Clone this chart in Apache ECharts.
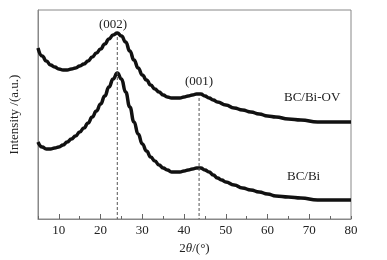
<!DOCTYPE html>
<html>
<head>
<meta charset="utf-8">
<script src="https://cdn.jsdelivr.net/npm/echarts@6/dist/echarts.min.js"></script>
<style>
  html, body { margin: 0; padding: 0; background: #fff; }
  #xrd { width: 387px; height: 260px; }
</style>
</head>
<body>
<div id="xrd"></div>
<script>
  // 2theta (deg) / intensity (arbitrary units)
  var ovAngle = [5, 6, 7, 8, 9, 10, 11, 12, 13, 14, 15, 16, 17, 18, 19, 20, 21, 22, 23, 24, 25, 26, 27, 28, 29, 30, 31, 32, 33, 34, 35, 36, 37, 38, 39, 40, 41, 42, 43, 44, 45, 46, 47, 48, 50, 52, 54, 56, 58, 60, 62, 65, 68, 72, 76, 80]
  var ovInt = [171, 163, 158, 154, 152, 150, 149, 149, 150, 151, 153, 155, 158, 162, 166, 170, 175, 180, 184, 186, 183, 177, 168, 159, 151, 144, 139, 134, 130, 127, 124, 122, 121, 121, 121, 122, 123, 124, 125, 125, 123, 121, 119, 117, 114, 111, 109, 107, 105, 103, 102, 100, 99, 97, 97, 97]
  var biAngle = [5, 6, 7, 8, 9, 10, 11, 12, 13, 14, 15, 16, 17, 18, 19, 20, 21, 22, 23, 24, 25, 26, 27, 28, 29, 30, 31, 32, 33, 34, 35, 36, 37, 38, 39, 40, 41, 42, 43, 44, 45, 46, 47, 48, 49, 50, 52, 54, 56, 58, 60, 62, 65, 68, 72, 76, 80]
  var biInt = [77, 72, 70, 70, 71, 72, 74, 77, 80, 83, 87, 91, 96, 102, 108, 115, 123, 132, 140, 146, 140, 127, 112, 97, 85, 75, 68, 62, 58, 54, 51, 49, 47, 47, 47, 48, 49, 50, 51, 51, 49, 47, 44, 41, 39, 37, 34, 31, 29, 27, 25, 23, 22, 21, 19, 19, 19]
  var peakPos = [24, 43.6]
  var peakTop = [182, 121]
  var peakNames = ['(002)', '(001)']
  var seriesNames = ['BC/Bi-OV', 'BC/Bi']

  function pairs(xs, ys) {
    return xs.map(function (x, i) { return [x, ys[i]] })
  }

  var serif = 'Liberation Serif'
  var myChart = echarts.init(document.getElementById('xrd'))

  var series = [{
    name: seriesNames[0],
    type: 'line',
    smooth: 0.5,
    smoothMonotone: 'x',
    symbol: 'none',
    lineStyle: { color: '#111', width: 3.5 },
    data: pairs(ovAngle, ovInt)
  }, {
    name: seriesNames[1],
    type: 'line',
    smooth: 0.5,
    smoothMonotone: 'x',
    symbol: 'none',
    lineStyle: { color: '#111', width: 3.5 },
    data: pairs(biAngle, biInt)
  }]
  // dashed guide lines at the peaks
  peakPos.forEach(function (p, i) {
    series.push({
      type: 'line',
      symbol: 'none',
      silent: true,
      lineStyle: { color: '#555', width: 1, type: [3, 2] },
      data: [[p, peakTop[i]], [p, 0]]
    })
  })

  myChart.setOption({
    animation: false,
    grid: {
      left: 35,
      right: 36,
      top: 10,
      bottom: 41,
      show: true,
      borderColor: '#888',
      borderWidth: 1
    },
    xAxis: [{
      type: 'value',
      min: 5,
      max: 80,
      interval: 5,
      name: '2{i|θ}/(°)',
      nameLocation: 'middle',
      nameGap: 20,
      nameTextStyle: {
        fontFamily: serif,
        fontSize: 13,
        color: '#222',
        rich: { i: { fontFamily: serif, fontStyle: 'italic', fontSize: 13, color: '#222' } }
      },
      splitLine: { show: false },
      axisLine: { lineStyle: { color: '#888' } },
      axisTick: { inside: true, length: 3, lineStyle: { color: '#666' } },
      axisLabel: {
        margin: 5,
        fontFamily: serif,
        fontSize: 13,
        color: '#222',
        formatter: function (v) { return v % 10 === 0 ? v : '' }
      }
    }, {
      // longer ticks on the tens
      type: 'value',
      min: 5,
      max: 80,
      position: 'bottom',
      splitLine: { show: false },
      axisLine: { show: false },
      axisLabel: { show: false },
      axisTick: {
        inside: true,
        length: 5,
        lineStyle: { color: '#666' },
        customValues: [10, 20, 30, 40, 50, 60, 70]
      }
    }],
    yAxis: {
      type: 'value',
      min: 0,
      max: 209,
      name: 'Intensity /(a.u.)',
      nameLocation: 'middle',
      nameGap: 17,
      nameTextStyle: { fontFamily: serif, fontSize: 13, color: '#222' },
      splitLine: { show: false },
      axisLine: { show: true, lineStyle: { color: '#888' } },
      axisTick: { show: false },
      axisLabel: { show: false }
    },
    graphic: [
      { type: 'text', x: 113, y: 25, style: { text: peakNames[0], font: '13px "Liberation Serif"', fill: '#222', textAlign: 'center', textVerticalAlign: 'middle' } },
      { type: 'text', x: 199, y: 82, style: { text: peakNames[1], font: '13px "Liberation Serif"', fill: '#222', textAlign: 'center', textVerticalAlign: 'middle' } },
      { type: 'text', x: 284, y: 98, style: { text: seriesNames[0], font: '13px "Liberation Serif"', fill: '#222', textAlign: 'left', textVerticalAlign: 'middle' } },
      { type: 'text', x: 287, y: 177, style: { text: seriesNames[1], font: '13px "Liberation Serif"', fill: '#222', textAlign: 'left', textVerticalAlign: 'middle' } }
    ],
    series: series
  })

  window.addEventListener('resize', function () {
    myChart.resize()
  })
</script>
</body>
</html>
